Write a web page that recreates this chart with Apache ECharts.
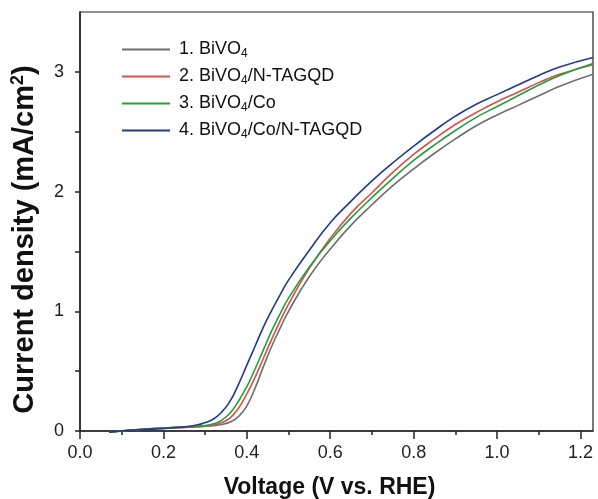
<!DOCTYPE html>
<html>
<head>
<meta charset="utf-8">
<script src="https://cdn.jsdelivr.net/npm/echarts@6/dist/echarts.min.js"></script>
<style>html,body{margin:0;padding:0;background:#fff}#c{width:598px;height:499px}</style>
</head>
<body>
<div id="c"></div>
<script>
// Voltage (V vs. RHE)
const volts = [0.07, 0.10, 0.15, 0.20, 0.25, 0.28, 0.30, 0.32, 0.34, 0.36, 0.38, 0.40, 0.42, 0.44, 0.46, 0.48, 0.50, 0.55, 0.60, 0.65, 0.70, 0.75, 0.80, 0.85, 0.90, 0.95, 1.00, 1.05, 1.10, 1.15, 1.23];
// Current density (mA/cm2)
const bivo4         = [-0.01, 0.00, 0.015, 0.025, 0.03, 0.035, 0.04, 0.045, 0.055, 0.075, 0.12, 0.21, 0.36, 0.54, 0.71, 0.86, 1.00, 1.29, 1.52, 1.72, 1.89, 2.05, 2.19, 2.32, 2.44, 2.55, 2.64, 2.72, 2.80, 2.88, 2.98];
const bivo4Ntagqd   = [-0.01, 0.00, 0.015, 0.025, 0.03, 0.035, 0.04, 0.05, 0.07, 0.11, 0.19, 0.31, 0.45, 0.61, 0.77, 0.92, 1.06, 1.36, 1.61, 1.82, 1.99, 2.16, 2.31, 2.44, 2.56, 2.66, 2.75, 2.83, 2.91, 2.98, 3.06];
const bivo4Co       = [-0.01, 0.00, 0.015, 0.025, 0.035, 0.04, 0.045, 0.06, 0.09, 0.15, 0.25, 0.37, 0.52, 0.68, 0.84, 0.98, 1.11, 1.37, 1.59, 1.78, 1.95, 2.11, 2.26, 2.39, 2.51, 2.62, 2.71, 2.80, 2.89, 2.97, 3.07];
const bivo4CoNtagqd = [-0.01, 0.00, 0.012, 0.02, 0.035, 0.05, 0.07, 0.10, 0.16, 0.25, 0.39, 0.55, 0.71, 0.87, 1.01, 1.14, 1.26, 1.51, 1.74, 1.92, 2.09, 2.24, 2.38, 2.51, 2.63, 2.73, 2.81, 2.89, 2.97, 3.04, 3.12];

const seriesNames = ['1. BiVO4', '2. BiVO4/N-TAGQD', '3. BiVO4/Co', '4. BiVO4/Co/N-TAGQD'];
const seriesValues = [bivo4, bivo4Ntagqd, bivo4Co, bivo4CoNtagqd];
const seriesColors = ['#6e6e6e', '#dc4e48', '#22a03c', '#1f3a8f'];

const xMajorTicks = [0.0, 0.2, 0.4, 0.6, 0.8, 1.0, 1.2];
const xMinorTicks = [0.1, 0.3, 0.5, 0.7, 0.9, 1.1];
const yTicks = [0, 0.5, 1, 1.5, 2, 2.5, 3];
const yLabels = [0, 1, 2, 3];

const FONT = 'Liberation Sans, Arial, Helvetica, sans-serif';
const chart = echarts.init(document.getElementById('c'));

const axisLine = {show: true, lineStyle: {color: '#222', width: 1.5}};

chart.setOption({
  backgroundColor: '#fff',
  animation: false,
  textStyle: {fontFamily: FONT},
  grid: {left: 80, right: 5, top: 12, bottom: 68, outerBoundsMode: 'none', containLabel: false,
    show: true, borderColor: '#222', borderWidth: 1.2, backgroundColor: 'transparent'},
  legend: {
    orient: 'vertical',
    left: 122, top: 39, padding: 0,
    itemWidth: 48, itemHeight: 2, itemGap: 6,
    icon: 'rect',
    data: seriesNames,
    textStyle: {
      fontFamily: FONT, fontSize: 18, color: '#111', lineHeight: 21, padding: [0, 0, 0, 4],
      rich: {
        s: {fontFamily: FONT, fontSize: 12, lineHeight: 10, verticalAlign: 'bottom', color: '#111'}
      }
    },
    formatter: function (n) { return n.replace(/BiVO4/g, 'BiVO{s|4}'); }
  },
  xAxis: [{
    type: 'value', min: 0, max: 1.23,
    splitLine: {show: false},
    axisLine: axisLine,
    axisTick: {show: true, length: 8, lineStyle: {color: '#222', width: 1.5}, customValues: xMajorTicks},
    axisLabel: {show: true, fontSize: 18, color: '#222', margin: 13, fontFamily: FONT,
      customValues: xMajorTicks, formatter: v => v.toFixed(1)},
    name: 'Voltage (V vs. RHE)', nameLocation: 'middle', nameGap: 45,
    nameTextStyle: {fontSize: 23, fontWeight: 'bold', color: '#111', fontFamily: FONT, padding: [0, 14, 0, 0]}
  }, {
    type: 'value', min: 0, max: 1.23, position: 'bottom',
    splitLine: {show: false},
    axisLine: {show: false},
    axisTick: {show: true, length: 4, lineStyle: {color: '#222', width: 1.5}, customValues: xMinorTicks},
    axisLabel: {show: false}
  }],
  yAxis: {
    type: 'value', min: 0, max: 3.5, interval: 0.5,
    splitLine: {show: false},
    axisLine: axisLine,
    axisTick: {show: true, length: 5, lineStyle: {color: '#222', width: 1.5}, customValues: yTicks},
    axisLabel: {show: true, fontSize: 18, color: '#222', margin: 16, fontFamily: FONT,
      customValues: yLabels, formatter: v => String(v)},
    name: '{t|Current density (mA/cm}{p|2}{t|)}', nameLocation: 'middle', nameGap: 39,
    nameTextStyle: {fontFamily: FONT, padding: [0, 36, 0, 0],
      rich: {
        t: {fontSize: 29, fontWeight: 'bold', color: '#111', fontFamily: FONT, lineHeight: 32},
        p: {fontSize: 18, fontWeight: 'bold', color: '#111', fontFamily: FONT, lineHeight: 18, verticalAlign: 'top'}
      }
    }
  },
  series: seriesNames.map((name, i) => ({
    name: name,
    type: 'line',
    xAxisIndex: 0,
    smooth: 0.5,
    symbol: 'none',
    clip: false,
    color: seriesColors[i],
    lineStyle: {width: 1.6, color: seriesColors[i]},
    data: volts.map((v, k) => [v, seriesValues[i][k]])
  }))
});
</script>
</body>
</html>
